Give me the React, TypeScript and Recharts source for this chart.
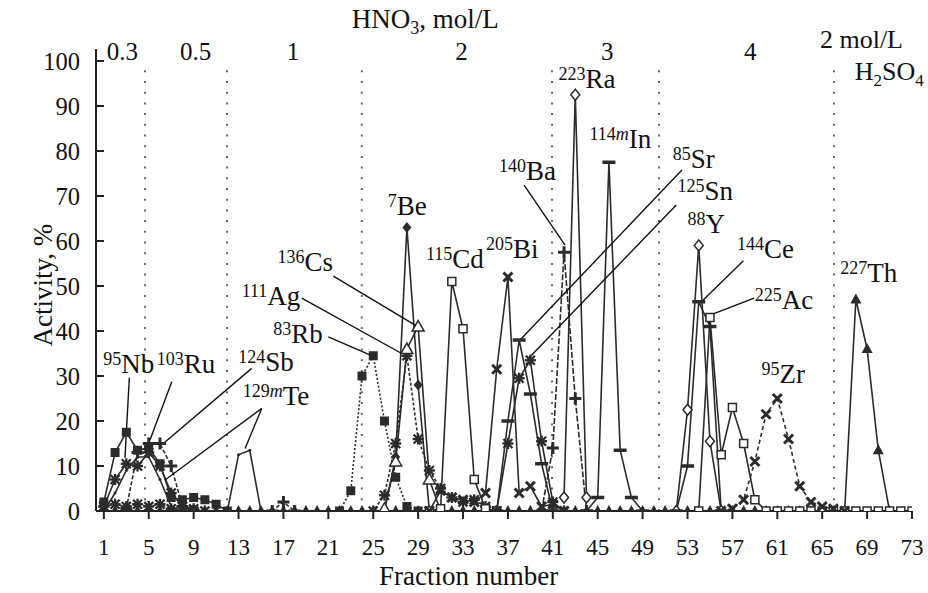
import React from 'react';
import { LineChart, Line, XAxis, YAxis, ReferenceLine, ReferenceDot } from 'recharts';

type P = [number, number];

// ---- data: [fraction number, activity %] ----
const NB95: P[] = [[1, 1], [2, 7], [3, 10.5], [4, 10], [5, 13], [6, 10], [7, 4], [8, 1], [9, 0]];
const RU103: P[] = [[1, 2], [2, 13], [3, 17.5], [4, 13.5], [5, 14], [6, 10.5], [7, 3], [8, 2.5], [9, 3], [10, 2.5], [11, 1.5], [12, 0]];
const SB124: P[] = [[3, 0.5], [4, 13], [5, 15], [6, 15], [7, 10], [8, 1], [9, 0], [16, 0], [17, 2], [18, 0]];
const TE129M: P[] = [[1, 0], [2, 4], [3, 9], [4, 12], [5, 12], [6, 7], [7, 1], [8, 0], [12, 0], [13, 12.5], [14, 13.5], [15, 0]];
const RB83: P[] = [[22, 0], [23, 4.5], [24, 30], [25, 34.5], [26, 20], [27, 7.5], [28, 1], [29, 0]];
const AG111: P[] = [[1, 1], [2, 1.5], [3, 1], [4, 1.5], [5, 1], [6, 1.5], [7, 0.5], [8, 1], [9, 0.5], [10, 0], [25, 0], [26, 3.5], [27, 15], [28, 34.5], [29, 16], [30, 9], [31, 5], [32, 3], [33, 2], [34, 2.5], [35, 1], [36, 0]];
const BE7: P[] = [[26, 0], [27, 12], [28, 63], [29, 28], [30, 0]];
const CS136: P[] = [[26, 0.5], [27, 11], [28, 36], [29, 41], [30, 7], [31, 0]];
const CD115: P[] = [[30, 0], [31, 0.5], [32, 51], [33, 40.5], [34, 7], [35, 0.5], [36, 0]];
const BI205: P[] = [[30, 0], [31, 4.5], [32, 3], [33, 2.5], [34, 2], [35, 4], [36, 31.5], [37, 52], [38, 4], [39, 5.5], [40, 1], [41, 1.5], [42, 0]];
const SR85: P[] = [[36, 0], [37, 20], [38, 38], [39, 26], [40, 10.5], [41, 0]];
const SN125: P[] = [[36, 0], [37, 15], [38, 29.5], [39, 33.5], [40, 15.5], [41, 2], [42, 0]];
const BA140: P[] = [[40, 0], [41, 14], [42, 57.5], [43, 25], [44, 0]];
const RA223: P[] = [[42, 3], [43, 92.5], [44, 3]];
const IN114M: P[] = [[44, 0], [45, 3], [46, 77.5], [47, 13.5], [48, 3], [49, 0]];
const Y88: P[] = [[52, 0], [53, 22.5], [54, 59], [55, 15.5], [56, 0]];
const CE144: P[] = [[52, 0], [53, 10], [54, 46.5], [55, 41], [56, 0]];
const AC225: P[] = [[54, 0], [55, 43], [56, 12.5], [57, 23], [58, 15], [59, 2.5], [60, 0], [61, 0], [62, 0], [63, 0], [64, 0], [65, 0], [66, 0], [67, 0], [68, 0], [69, 0], [70, 0], [71, 0], [72, 0], [73, 0]];
const ZR95: P[] = [[56, 0], [57, 0.5], [58, 2.5], [59, 11], [60, 21.5], [61, 25], [62, 16], [63, 5.5], [64, 2], [65, 1], [66, 0.5], [67, 0]];
const TH227: P[] = [[1, 0], [2, 0], [3, 0], [4, 0], [5, 0], [6, 0], [7, 0], [8, 0], [9, 0], [10, 0], [11, 0], [12, 0], [13, 0], [14, 0], [15, 0], [16, 0], [17, 0], [18, 0], [19, 0], [20, 0], [21, 0], [22, 0], [23, 0], [24, 0], [25, 0], [26, 0], [27, 0], [28, 0], [29, 0], [30, 0], [31, 0], [32, 0], [33, 0], [34, 0], [35, 0], [36, 0], [37, 0], [38, 0], [39, 0], [40, 0], [41, 0], [42, 0], [43, 0], [44, 0], [45, 0], [46, 0], [47, 0], [48, 0], [49, 0], [50, 0], [51, 0], [52, 0], [53, 0], [54, 0], [55, 0], [56, 0], [57, 0], [58, 0], [59, 0], [60, 0], [61, 0], [62, 0], [63, 0], [64, 0], [65, 0], [66, 0], [67, 0], [68, 47], [69, 36], [70, 13.5], [71, 0]];

const X_TICKS = [1, 5, 9, 13, 17, 21, 25, 29, 33, 37, 41, 45, 49, 53, 57, 61, 65, 69, 73];
const Y_TICKS = [0, 10, 20, 30, 40, 50, 60, 70, 80, 90, 100];
const SEPARATORS = [4.67, 11.97, 23.98, 40.93, 50.46, 66.05];
const CONC_LABELS = ['0.3', '0.5', '1', '2', '3', '4'];
const CONC_POS = [1.25, 7.79, 17.3, 32.3, 45.3, 58.04];

const INK = '#2b2b2b';
const FONT = '"Liberation Serif", "Times New Roman", serif';

type Kind = 'fdiamond' | 'odiamond' | 'osquare' | 'fsquare' | 'otri' | 'ftri' | 'x' | 'star' | 'plus' | 'dash' | 'dot';

const SERIES: { name: string; data: P[]; kind: Kind; dash?: string }[] = [
  { name: '227Th', data: TH227, kind: 'ftri' },
  { name: '225Ac', data: AC225, kind: 'osquare' },
  { name: '111Ag', data: AG111, kind: 'star', dash: '3 2' },
  { name: '129mTe', data: TE129M, kind: 'dot' },
  { name: '95Nb', data: NB95, kind: 'star' },
  { name: '103Ru', data: RU103, kind: 'fsquare' },
  { name: '124Sb', data: SB124, kind: 'plus', dash: '4 2' },
  { name: '83Rb', data: RB83, kind: 'fsquare', dash: '2 2' },
  { name: '7Be', data: BE7, kind: 'fdiamond' },
  { name: '136Cs', data: CS136, kind: 'otri' },
  { name: '115Cd', data: CD115, kind: 'osquare' },
  { name: '205Bi', data: BI205, kind: 'x' },
  { name: '85Sr', data: SR85, kind: 'dash' },
  { name: '125Sn', data: SN125, kind: 'star' },
  { name: '140Ba', data: BA140, kind: 'plus', dash: '6 2' },
  { name: '223Ra', data: RA223, kind: 'odiamond' },
  { name: '114mIn', data: IN114M, kind: 'dash' },
  { name: '88Y', data: Y88, kind: 'odiamond' },
  { name: '144Ce', data: CE144, kind: 'dash' },
  { name: '95Zr', data: ZR95, kind: 'x', dash: '4 3' },
];

type Lbl = { x: number; y: number; sup: string; it?: string; main: string };
const ISO_LABELS: Lbl[] = [
  { x: 0.95, y: 30.7, sup: '95', main: 'Nb' },
  { x: 5.71, y: 30.7, sup: '103', main: 'Ru' },
  { x: 12.98, y: 31.2, sup: '124', main: 'Sb' },
  { x: 13.37, y: 23.6, sup: '129', it: 'm', main: 'Te' },
  { x: 16.1, y: 37.3, sup: '83', main: 'Rb' },
  { x: 13.28, y: 45.8, sup: '111', main: 'Ag' },
  { x: 16.46, y: 53.4, sup: '136', main: 'Cs' },
  { x: 26.3, y: 65.8, sup: '7', main: 'Be' },
  { x: 29.7, y: 53.9, sup: '115', main: 'Cd' },
  { x: 35.05, y: 56.2, sup: '205', main: 'Bi' },
  { x: 36.2, y: 73.6, sup: '140', main: 'Ba' },
  { x: 41.5, y: 93.9, sup: '223', main: 'Ra' },
  { x: 44.26, y: 80.6, sup: '114', it: 'm', main: 'In' },
  { x: 51.69, y: 76.3, sup: '85', main: 'Sr' },
  { x: 52.1, y: 69.1, sup: '125', main: 'Sn' },
  { x: 53.0, y: 61.8, sup: '88', main: 'Y' },
  { x: 57.4, y: 56.2, sup: '144', main: 'Ce' },
  { x: 59.0, y: 45.0, sup: '225', main: 'Ac' },
  { x: 59.6, y: 28.4, sup: '95', main: 'Zr' },
  { x: 66.6, y: 51.0, sup: '227', main: 'Th' },
];

// leader lines from labels to peaks
const LEADERS: [number, number, number, number][] = [
  [3.27, 29.6, 2.88, 11.8],
  [7.05, 28.7, 5.11, 15.8],
  [14.17, 31.7, 6.3, 15.0],
  [15.07, 22.8, 6.45, 6.9],
  [15.07, 22.8, 13.58, 13.9],
  [21.0, 38.7, 24.7, 34.7],
  [18.63, 47.3, 27.54, 35.0],
  [21.45, 52.2, 28.88, 41.1],
  [38.44, 72.4, 42.09, 59.1],
  [52.5, 75.8, 38.08, 38.0],
  [52.0, 68.0, 38.82, 33.9],
  [57.98, 55.6, 54.4, 46.9],
  [58.93, 47.3, 55.3, 43.8],
];

function Marker({ kind, cx, cy }: { kind: Kind; cx: number; cy: number }) {
  const s = 4.5;
  switch (kind) {
    case 'fdiamond':
      return <polygon points={`${cx},${cy - 5.5} ${cx + 4.5},${cy} ${cx},${cy + 5.5} ${cx - 4.5},${cy}`} fill={INK} />;
    case 'odiamond':
      return <polygon points={`${cx},${cy - 5.5} ${cx + 4.5},${cy} ${cx},${cy + 5.5} ${cx - 4.5},${cy}`} fill="#fff" stroke={INK} strokeWidth={1.5} />;
    case 'osquare':
      return <rect x={cx - 4} y={cy - 4} width={8} height={8} fill="#fff" stroke={INK} strokeWidth={1.5} />;
    case 'fsquare':
      return <rect x={cx - 4.5} y={cy - 4.5} width={9} height={9} fill={INK} />;
    case 'otri':
      return <polygon points={`${cx},${cy - 6} ${cx + 6},${cy + 4.5} ${cx - 6},${cy + 4.5}`} fill="#fff" stroke={INK} strokeWidth={1.5} />;
    case 'ftri':
      return <polygon points={`${cx},${cy - 6} ${cx + 5.5},${cy + 4} ${cx - 5.5},${cy + 4}`} fill={INK} />;
    case 'x':
      return (
        <g stroke={INK} strokeWidth={3}>
          <line x1={cx - s} y1={cy - s} x2={cx + s} y2={cy + s} />
          <line x1={cx - s} y1={cy + s} x2={cx + s} y2={cy - s} />
        </g>
      );
    case 'star':
      return (
        <g stroke={INK} strokeWidth={2.4}>
          <line x1={cx - s} y1={cy - s} x2={cx + s} y2={cy + s} />
          <line x1={cx - s} y1={cy + s} x2={cx + s} y2={cy - s} />
          <line x1={cx - s - 1} y1={cy} x2={cx + s + 1} y2={cy} />
          <line x1={cx} y1={cy - s - 1} x2={cx} y2={cy + s + 1} />
        </g>
      );
    case 'plus':
      return (
        <g stroke={INK} strokeWidth={3}>
          <line x1={cx - 6} y1={cy} x2={cx + 6} y2={cy} />
          <line x1={cx} y1={cy - 6} x2={cx} y2={cy + 6} />
        </g>
      );
    case 'dash':
      return <line x1={cx - 6.5} y1={cy} x2={cx + 6.5} y2={cy} stroke={INK} strokeWidth={3.5} />;
    case 'dot':
    default:
      return <circle cx={cx} cy={cy} r={1.5} fill={INK} />;
  }
}

const dotFor = (name: string, kind: Kind) => (props: any) => {
  const { cx, cy, index } = props;
  if (cx == null || cy == null || Number.isNaN(cx) || Number.isNaN(cy)) return <g key={`${name}-${index}`} />;
  return (
    <g key={`${name}-${index}`}>
      <Marker kind={kind} cx={cx} cy={cy} />
    </g>
  );
};

function IsoLabel({ cx, cy, l }: { cx: number; cy: number; l: Lbl }) {
  return (
    <text x={cx} y={cy} fontFamily={FONT} fill="#111" fontSize={27}>
      <tspan fontSize={18} dy={-8}>{l.sup}</tspan>
      {l.it ? <tspan fontSize={18} fontStyle="italic">{l.it}</tspan> : null}
      <tspan fontSize={27} dy={8}>{l.main}</tspan>
    </text>
  );
}

const toRows = (pts: P[]) => pts.map(([f, v]) => ({ f, v }));

export default function App() {
  return (
    <div style={{ position: 'absolute', left: 0, top: 0, width: 928, height: 593, background: '#fff' }}>
      <LineChart width={928} height={593} margin={{ top: 49, right: 16, bottom: 32, left: 36 }}>
        <XAxis
          dataKey="f"
          type="number"
          domain={[0.3, 73]}
          ticks={X_TICKS}
          allowDataOverflow
          height={50}
          tickSize={8}
          tickMargin={20}
          interval={0}
          stroke="#222"
          strokeWidth={2}
          tick={{ fontSize: 23, fontFamily: FONT, fill: '#111' }}
        />
        <YAxis
          type="number"
          domain={[0, 102.67]}
          ticks={Y_TICKS}
          allowDataOverflow
          width={60}
          tickSize={-8}
          tickMargin={24}
          interval={0}
          stroke="#222"
          strokeWidth={2}
          tick={{ fontSize: 24.5, fontFamily: FONT, fill: '#111' }}
        />
        {SEPARATORS.map((x) => (
          <ReferenceLine
            key={`sep-${x}`}
            segment={[{ x, y: 0 }, { x, y: 99 }]}
            stroke="#666"
            strokeWidth={2}
            strokeDasharray="2 8.7"
            ifOverflow="visible"
          />
        ))}
        {SERIES.map((s) => (
          <Line
            key={s.name}
            name={s.name}
            data={toRows(s.data)}
            dataKey="v"
            type="linear"
            stroke={INK}
            strokeWidth={1.6}
            strokeDasharray={s.dash}
            dot={dotFor(s.name, s.kind)}
            activeDot={false}
            isAnimationActive={false}
          />
        ))}
        {LEADERS.map(([x1, y1, x2, y2], i) => (
          <ReferenceLine
            key={`lead-${i}`}
            segment={[{ x: x1, y: y1 }, { x: x2, y: y2 }]}
            stroke="#111"
            strokeWidth={1.4}
            ifOverflow="visible"
          />
        ))}
        {ISO_LABELS.map((l) => (
          <ReferenceDot
            key={`lbl-${l.sup}${l.main}`}
            x={l.x}
            y={l.y}
            r={0}
            ifOverflow="visible"
            shape={(p: any) => <IsoLabel cx={p.cx} cy={p.cy} l={l} />}
          />
        ))}
        {CONC_LABELS.map((t, i) => (
          <ReferenceDot
            key={`conc-${t}`}
            x={CONC_POS[i]}
            y={100.3}
            r={0}
            ifOverflow="visible"
            shape={(p: any) => (
              <text x={p.cx} y={p.cy} fontFamily={FONT} fontSize={25} fill="#111">{t}</text>
            )}
          />
        ))}
        <ReferenceDot
          x={64.8}
          y={102.8}
          r={0}
          ifOverflow="visible"
          shape={(p: any) => (
            <text x={p.cx} y={p.cy} fontFamily={FONT} fontSize={26} fill="#111">2 mol/L</text>
          )}
        />
        <ReferenceDot
          x={67.9}
          y={95.8}
          r={0}
          ifOverflow="visible"
          shape={(p: any) => (
            <text x={p.cx} y={p.cy} fontFamily={FONT} fontSize={26} fill="#111">
              <tspan>H</tspan>
              <tspan fontSize={17} dy={6}>2</tspan>
              <tspan dy={-6}>SO</tspan>
              <tspan fontSize={17} dy={6}>4</tspan>
            </text>
          )}
        />
        <ReferenceDot
          x={23.08}
          y={107.3}
          r={0}
          ifOverflow="visible"
          shape={(p: any) => (
            <text x={p.cx} y={p.cy} fontFamily={FONT} fontSize={27} fill="#111">
              <tspan>HNO</tspan>
              <tspan fontSize={18} dy={6}>3</tspan>
              <tspan dy={-6}>, mol/L</tspan>
            </text>
          )}
        />
        <ReferenceDot
          x={33.5}
          y={-16.4}
          r={0}
          ifOverflow="visible"
          shape={(p: any) => (
            <text x={p.cx} y={p.cy} fontFamily={FONT} fontSize={27} fill="#111" textAnchor="middle">Fraction number</text>
          )}
        />
        <ReferenceDot
          x={-3.6}
          y={50.2}
          r={0}
          ifOverflow="visible"
          shape={(p: any) => (
            <text
              x={p.cx}
              y={p.cy}
              fontFamily={FONT}
              fontSize={27}
              fill="#111"
              textAnchor="middle"
              transform={`rotate(-90, ${p.cx}, ${p.cy})`}
            >
              Activity, %
            </text>
          )}
        />
      </LineChart>
    </div>
  );
}
